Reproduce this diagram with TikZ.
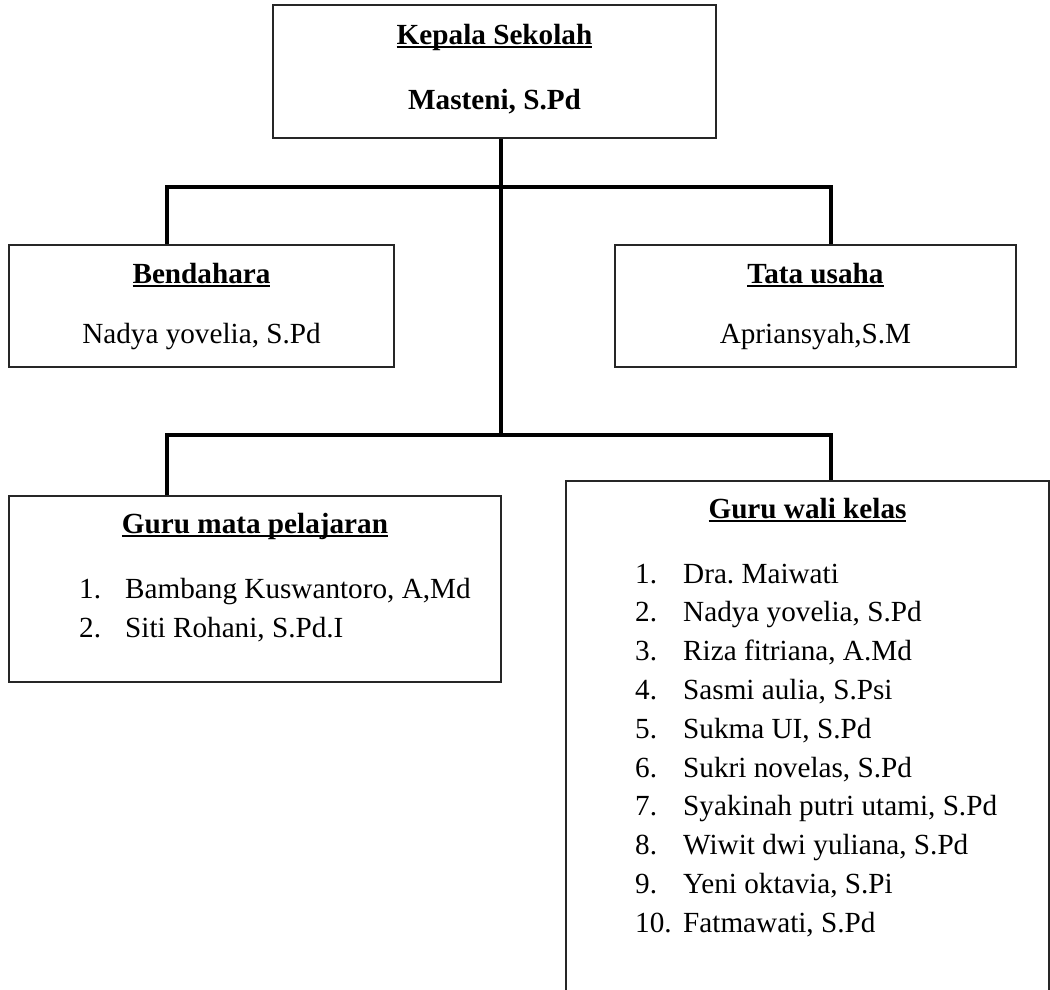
\documentclass[tikz,border=0pt]{standalone}
\usepackage{fontspec}
\setmainfont{Liberation Serif}
\frenchspacing
\newcommand{\diagfont}{\fontsize{29.2pt}{35pt}\selectfont}
\newcommand{\myul}[1]{\setbox0\hbox{#1}\rlap{\rule[-0.15em]{\wd0}{0.08em}}\box0}
\begin{document}
\begin{tikzpicture}[x=1pt,y=-1pt,
  box/.style={draw=black!85, line width=1.5pt, inner sep=0pt, fill=white},
  conn/.style={draw=black, line width=4pt, line join=miter},
  title/.style={anchor=base, inner sep=0pt, font=\bfseries\diagfont},
  txt/.style={anchor=base, inner sep=0pt, font=\diagfont},
  item/.style={anchor=base west, inner sep=0pt, font=\diagfont}]
\useasboundingbox (0,0) rectangle (1050,989);

% boxes
\node[box, minimum width=443pt, minimum height=133pt] (ks) at (494.5,71.5) {};
\node[box, minimum width=385pt, minimum height=122pt] (bend) at (201.5,306) {};
\node[box, minimum width=401pt, minimum height=122pt] (tu) at (815.5,306) {};
\node[box, minimum width=492pt, minimum height=186pt] (gmp) at (255,589) {};
\node[box, minimum width=483pt, minimum height=539pt] (gwk) at (807.5,750.5) {};

% junctions
\coordinate (c1) at (501,187);
\coordinate (c2) at (501,435);
\coordinate (l1) at (167,187);
\coordinate (r1) at (831,187);
\coordinate (l2) at (167,435);
\coordinate (r2) at (831,435);

% connectors
\draw[conn] (ks.south -| c1) -- (c2);
\draw[conn] (bend.north -| l1) -- (l1) -- (r1) -- (tu.north -| r1);
\draw[conn] (gmp.north -| l2) -- (l2) -- (r2) -- (gwk.north -| r2);

% texts
\node[title] (t1) at (494.5,44) {\myul{Kepala Sekolah}};
\node[title] (t2) at (494.5,109) {Masteni, S.Pd};
\node[title] (t3) at (201.5,283) {\myul{Bendahara}};
\node[txt] (t4) at (201.5,343) {Nadya yovelia, S.Pd};
\node[title] (t5) at (815.5,283) {\myul{Tata usaha}};
\node[txt] (t6) at (815.5,343) {Apriansyah,S.M};
\node[title] (t7) at (255,533) {\myul{Guru mata pelajaran}};
\node[item] (a1n) at (79,598) {1.};
\node[item] (a1) at (125,598) {Bambang Kuswantoro, A,Md};
\node[item] (a2n) at (79,637) {2.};
\node[item] (a2) at (125,637) {Siti Rohani, S.Pd.I};
\node[title] (t8) at (807.5,518) {\myul{Guru wali kelas}};
\foreach \n/\name [count=\i from 0] in {1/{Dra.\ Maiwati}, 2/{Nadya yovelia, S.Pd}, 3/{Riza fitriana, A.Md}, 4/{Sasmi aulia, S.Psi}, 5/{Sukma UI, S.Pd}, 6/{Sukri novelas, S.Pd}, 7/{Syakinah putri utami, S.Pd}, 8/{Wiwit dwi yuliana, S.Pd}, 9/{Yeni oktavia, S.Pi}, 10/{Fatmawati, S.Pd}}{
  \node[item] (bn\n) at (635,583+38.8*\i) {\n.};
  \node[item] (b\n) at (683,583+38.8*\i) {\name};
}
\end{tikzpicture}
\end{document}
